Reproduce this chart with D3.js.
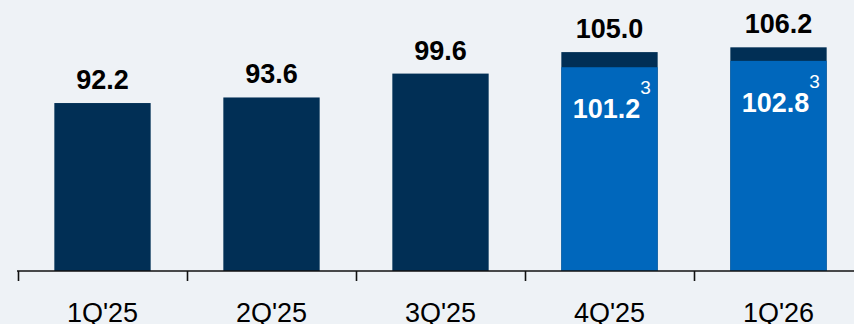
<!DOCTYPE html>
<html>
<head>
<meta charset="utf-8">
<script src="https://cdn.jsdelivr.net/npm/d3@7"></script>
<style>
  html, body { margin: 0; padding: 0; background: #eef2f6; }
  svg { display: block; }
</style>
</head>
<body>
<svg id="chart" width="854" height="324"></svg>
<script>
const categories = ["1Q'25", "2Q'25", "3Q'25", "4Q'25", "1Q'26"];
const totals = [92.2, 93.6, 99.6, 105.0, 106.2];
const innerValues = [null, null, null, 101.2, 102.8];
const innerNote = "3";

const W = 854, H = 324;
const svg = d3.select("#chart");
svg.append("rect").attr("width", W).attr("height", H).attr("fill", "#eef2f6");

const axisY = 271;
const x = d3.scaleBand().domain(categories).range([18, 18 + 169 * 5]).paddingInner(0.43).paddingOuter(0.215);
const y = d3.scaleLinear().domain([50, 118]).range([axisY, axisY - 68 * 3.98]);

const dark = "#012f55", blue = "#0067bc";
const font = "'Liberation Sans', Arial, sans-serif";

const g = svg.append("g");
// total bars (dark)
g.selectAll("rect.total").data(categories).join("rect")
  .attr("class", "total")
  .attr("x", d => x(d))
  .attr("width", x.bandwidth())
  .attr("y", (d, i) => y(totals[i]))
  .attr("height", (d, i) => axisY - y(totals[i]))
  .attr("fill", dark);

// inner bars (blue)
const innerData = categories.map((c, i) => ({ c, v: innerValues[i] })).filter(d => d.v != null);
g.selectAll("rect.inner").data(innerData).join("rect")
  .attr("class", "inner")
  .attr("x", d => x(d.c))
  .attr("width", x.bandwidth())
  .attr("y", d => y(d.v))
  .attr("height", d => axisY - y(d.v))
  .attr("fill", blue);

// total labels
g.selectAll("text.total").data(categories).join("text")
  .attr("class", "total")
  .attr("x", d => x(d) + x.bandwidth() / 2)
  .attr("y", (d, i) => y(totals[i]) - 14)
  .attr("text-anchor", "middle")
  .attr("font-family", font)
  .attr("font-weight", "bold")
  .attr("font-size", 27)
  .attr("fill", "#000")
  .text((d, i) => totals[i].toFixed(1));

// inner labels
g.selectAll("text.inner").data(innerData).join("text")
  .attr("class", "inner")
  .attr("x", d => x(d.c) + x.bandwidth() / 2 - 3)
  .attr("y", d => y(d.v) + 51)
  .attr("text-anchor", "middle")
  .attr("font-family", font)
  .attr("font-weight", "bold")
  .attr("font-size", 27)
  .attr("fill", "#fff")
  .text(d => d.v.toFixed(1));

g.selectAll("text.note").data(innerData).join("text")
  .attr("class", "note")
  .attr("x", d => x(d.c) + x.bandwidth() / 2 + 36)
  .attr("y", d => y(d.v) + 27)
  .attr("text-anchor", "middle")
  .attr("font-family", font)
  .attr("font-size", 19)
  .attr("fill", "#fff")
  .text(innerNote);

// axis
const axis = d3.axisBottom(x).tickSize(0).tickPadding(32);
const ag = svg.append("g").attr("transform", `translate(0,${axisY})`).call(axis);
ag.select(".domain").remove();
ag.selectAll("text").attr("font-family", font).attr("font-size", 27).attr("fill", "#000");
svg.append("line").attr("x1", 17).attr("x2", W).attr("y1", axisY).attr("y2", axisY)
  .attr("stroke", "#111").attr("stroke-width", 1.6);
const bounds = categories.map(c => x(c) - (x.step() - x.bandwidth()) / 2);
svg.selectAll("line.tick").data(bounds).join("line")
  .attr("class", "tick")
  .attr("x1", d => Math.round(d) + 0.5).attr("x2", d => Math.round(d) + 0.5)
  .attr("y1", axisY).attr("y2", axisY + 10)
  .attr("stroke", "#111").attr("stroke-width", 1.6);
</script>
</body>
</html>
